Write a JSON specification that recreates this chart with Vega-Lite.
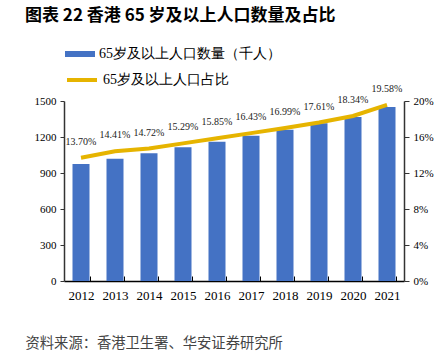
{
  "$schema": "https://vega.github.io/schema/vega-lite/v6.json",
  "width": 340,
  "height": 180,
  "autosize": {"type": "none"},
  "padding": {"left": 64, "top": 101, "right": 43, "bottom": 72},
  "background": "white",
  "title": {
    "text": "图表 22 香港 65 岁及以上人口数量及占比",
    "anchor": "start",
    "frame": "group",
    "dx": -39,
    "offset": 14,
    "font": "Noto Sans CJK SC",
    "fontSize": 17,
    "fontWeight": "bold",
    "color": "#000000"
  },
  "data": {
    "values": [
      {"year": "2012", "pop": 975, "pct": 0.1370},
      {"year": "2013", "pop": 1019, "pct": 0.1441},
      {"year": "2014", "pop": 1064, "pct": 0.1472},
      {"year": "2015", "pop": 1114, "pct": 0.1529},
      {"year": "2016", "pop": 1161, "pct": 0.1585},
      {"year": "2017", "pop": 1211, "pct": 0.1643},
      {"year": "2018", "pop": 1261, "pct": 0.1699},
      {"year": "2019", "pop": 1314, "pct": 0.1761},
      {"year": "2020", "pop": 1367, "pct": 0.1834},
      {"year": "2021", "pop": 1450, "pct": 0.1958}
    ]
  },
  "encoding": {
    "x": {
      "field": "year",
      "type": "ordinal",
      "scale": {"paddingInner": 0.5, "paddingOuter": 0.25},
      "axis": {
        "title": "资料来源：香港卫生署、华安证券研究所",
        "titleX": -39,
        "titleY": 62,
        "titleAlign": "left",
        "titleBaseline": "middle",
        "titleFont": "Noto Sans CJK SC",
        "titleFontSize": 14.3,
        "titleFontWeight": "normal",
        "titleColor": "#444444",
        "labelAngle": 0,
        "labelFont": "Liberation Serif",
        "labelFontSize": 13,
        "labelColor": "#000000",
        "labelPadding": 13,
        "domainColor": "#000000",
        "domainWidth": 1.5,
        "tickBand": "extent",
        "tickSize": -5,
        "tickColor": "#000000",
        "tickWidth": 1
      }
    }
  },
  "layer": [
    {
      "mark": {"type": "bar"},
      "encoding": {
        "y": {
          "field": "pop",
          "type": "quantitative",
          "scale": {"domain": [0, 1500]},
          "axis": {
            "title": null,
            "format": "d",
            "values": [0, 300, 600, 900, 1200, 1500],
            "labelOverlap": false,
            "grid": false,
            "labelFont": "Liberation Serif",
            "labelFontSize": 11,
            "labelColor": "#000000",
            "labelPadding": 4,
            "tickSize": 4,
            "tickColor": "#333333",
            "domainColor": "#333333",
            "domainWidth": 1.5
          }
        },
        "fill": {
          "datum": "65岁及以上人口数量（千人）",
          "scale": {"range": ["#4472C4"]},
          "legend": {
            "title": null,
            "orient": "none",
            "legendX": 1,
            "legendY": -62,
            "padding": 0,
            "symbolType": "M-1,-0.2H1V0.2H-1Z",
            "symbolSize": 900,
            "symbolStrokeWidth": 0,
            "labelFont": "Liberation Serif",
            "labelFontSize": 14,
            "labelColor": "#000000",
            "labelOffset": 4,
            "labelLimit": 0
          }
        }
      }
    },
    {
      "layer": [
        {
          "mark": {"type": "line", "strokeWidth": 4},
          "encoding": {
            "y": {
              "field": "pct",
              "type": "quantitative",
              "scale": {"domain": [0, 0.2]},
              "axis": {
                "orient": "right",
                "title": null,
                "format": ".0%",
                "values": [0, 0.04, 0.08, 0.12, 0.16, 0.2],
                "labelOverlap": false,
                "labelBound": false,
                "grid": false,
                "labelFont": "Liberation Serif",
                "labelFontSize": 11,
                "labelColor": "#000000",
                "labelPadding": 4,
                "tickSize": 5,
                "tickColor": "#333333",
                "domainColor": "#333333",
                "domainWidth": 1.5
              }
            },
            "stroke": {
              "datum": "65岁及以上人口占比",
              "scale": {"range": ["#E6B400"]},
              "legend": {
                "title": null,
                "orient": "none",
                "legendX": 1,
                "legendY": -38,
                "padding": 0,
                "symbolType": "stroke",
                "symbolSize": 900,
                "symbolStrokeWidth": 4,
                "labelFont": "Liberation Serif",
                "labelFontSize": 14,
                "labelColor": "#000000",
                "labelOffset": 4,
                "labelLimit": 0
              }
            }
          }
        },
        {
          "mark": {"type": "text", "dy": -16, "font": "Liberation Serif", "fontSize": 10, "color": "#222222"},
          "encoding": {
            "y": {
              "field": "pct",
              "type": "quantitative",
              "axis": {
                "orient": "right",
                "title": null,
                "format": ".0%",
                "values": [0, 0.04, 0.08, 0.12, 0.16, 0.2],
                "labelOverlap": false,
                "labelBound": false,
                "grid": false,
                "labelFont": "Liberation Serif",
                "labelFontSize": 11,
                "labelColor": "#000000",
                "labelPadding": 4,
                "tickSize": 5,
                "tickColor": "#333333",
                "domainColor": "#333333",
                "domainWidth": 1.5
              }
            },
            "text": {"field": "pct", "type": "quantitative", "format": ".2%"}
          }
        }
      ]
    }
  ],
  "resolve": {"scale": {"y": "independent"}},
  "config": {"view": {"stroke": null}}
}
